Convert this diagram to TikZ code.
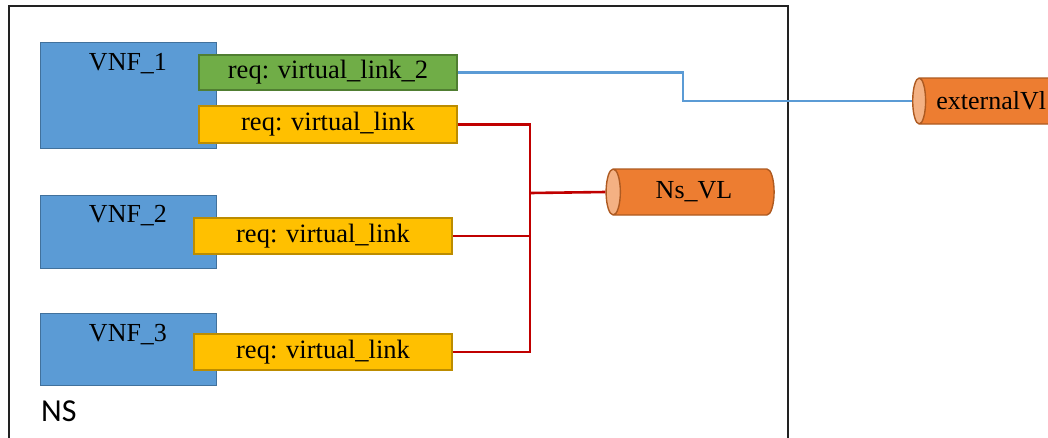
\documentclass[tikz,border=0pt]{standalone}
\usepackage{fontspec}
\setmainfont{Liberation Serif}
\newfontfamily\nsfont{Carlito}
\usetikzlibrary{shapes.geometric}
\definecolor{vnfblue}{HTML}{5B9BD5}
\definecolor{vnfborder}{HTML}{41719C}
\definecolor{reqgreen}{HTML}{70AD47}
\definecolor{greenborder}{HTML}{507E32}
\definecolor{reqyellow}{HTML}{FFC000}
\definecolor{yellowborder}{HTML}{BC8C00}
\definecolor{vlorange}{HTML}{ED7D31}
\definecolor{vlend}{HTML}{F4B183}
\definecolor{orangeborder}{HTML}{AE5A21}
\definecolor{linkred}{HTML}{C00000}
\definecolor{linkblue}{HTML}{5B9BD5}
\definecolor{framegray}{HTML}{222222}
\begin{document}
\begin{tikzpicture}[x=1pt,y=-1pt,
  vnfbox/.style={draw=vnfborder,fill=vnfblue,line width=1.4pt,anchor=north west,inner sep=0pt,minimum width=176pt},
  vnflabel/.style={anchor=base,inner sep=0pt,font=\fontsize{26}{30}\selectfont},
  reqbox/.style={draw=#1,line width=1.4pt,minimum width=258pt,minimum height=36pt,inner sep=0pt,font=\fontsize{26.5}{30}\selectfont},
  vlcyl/.style={cylinder,shape border rotate=180,draw=orangeborder,line width=1.4pt,
    cylinder uses custom fill,cylinder body fill=vlorange,cylinder end fill=vlend,
    aspect=0.7,minimum width=46pt,inner sep=0pt,font=\fontsize{26}{30}\selectfont},
  redlink/.style={draw=linkred,line width=2.6pt},
  bluelink/.style={draw=linkblue,line width=2.4pt}]
\useasboundingbox (0,0) rectangle (1048,437);
\clip (0,0) rectangle (1048,437);
% NS frame
\node[draw=framegray,line width=2.2pt,anchor=north west,minimum width=779pt,minimum height=450pt,inner sep=0pt] (ns) at (8,5) {};
\node[anchor=base west,inner sep=0pt,font=\nsfont\fontsize{32}{36}\selectfont] (nslabel) at (41,421) {NS};
% VNF boxes
\node[vnfbox,minimum height=106pt] (vnf1) at (40,42) {};
\node[vnfbox,minimum height=73pt] (vnf2) at (40,195) {};
\node[vnfbox,minimum height=72pt] (vnf3) at (40,313) {};
\node[vnflabel] (vnf1t) at (128,70) {VNF\_1};
\node[vnflabel] (vnf2t) at (128,222) {VNF\_2};
\node[vnflabel] (vnf3t) at (128,341) {VNF\_3};
% requirement boxes
\node[reqbox=greenborder,fill=reqgreen,minimum height=35pt] (g1) at (328,72.5) {req: virtual\_link\_2};
\node[reqbox=yellowborder,fill=reqyellow,minimum height=37pt] (y1) at (328,124.5) {req: virtual\_link};
\node[reqbox=yellowborder,fill=reqyellow] (y2) at (323,236) {req: virtual\_link};
\node[reqbox=yellowborder,fill=reqyellow] (y3) at (323,352) {req: virtual\_link};
% virtual links
\node[vlcyl,minimum height=168pt] (nsvl) at (694,192) {Ns\_VL};
\node[vlcyl,minimum height=150pt,anchor=west] (ext) at (912,101) {externalVl};
% connectors
\coordinate (J) at (530,193);
\coordinate (bx) at (683,0);
\draw[redlink] (y1.east) -| (J);
\draw[redlink] (y2.east) -| (J);
\draw[redlink] (y3.east) -| (J);
\draw[redlink] (J) -- (nsvl.west);
\draw[bluelink] (g1.east) -- (g1.east -| bx) |- (ext.west);
\end{tikzpicture}
\end{document}
